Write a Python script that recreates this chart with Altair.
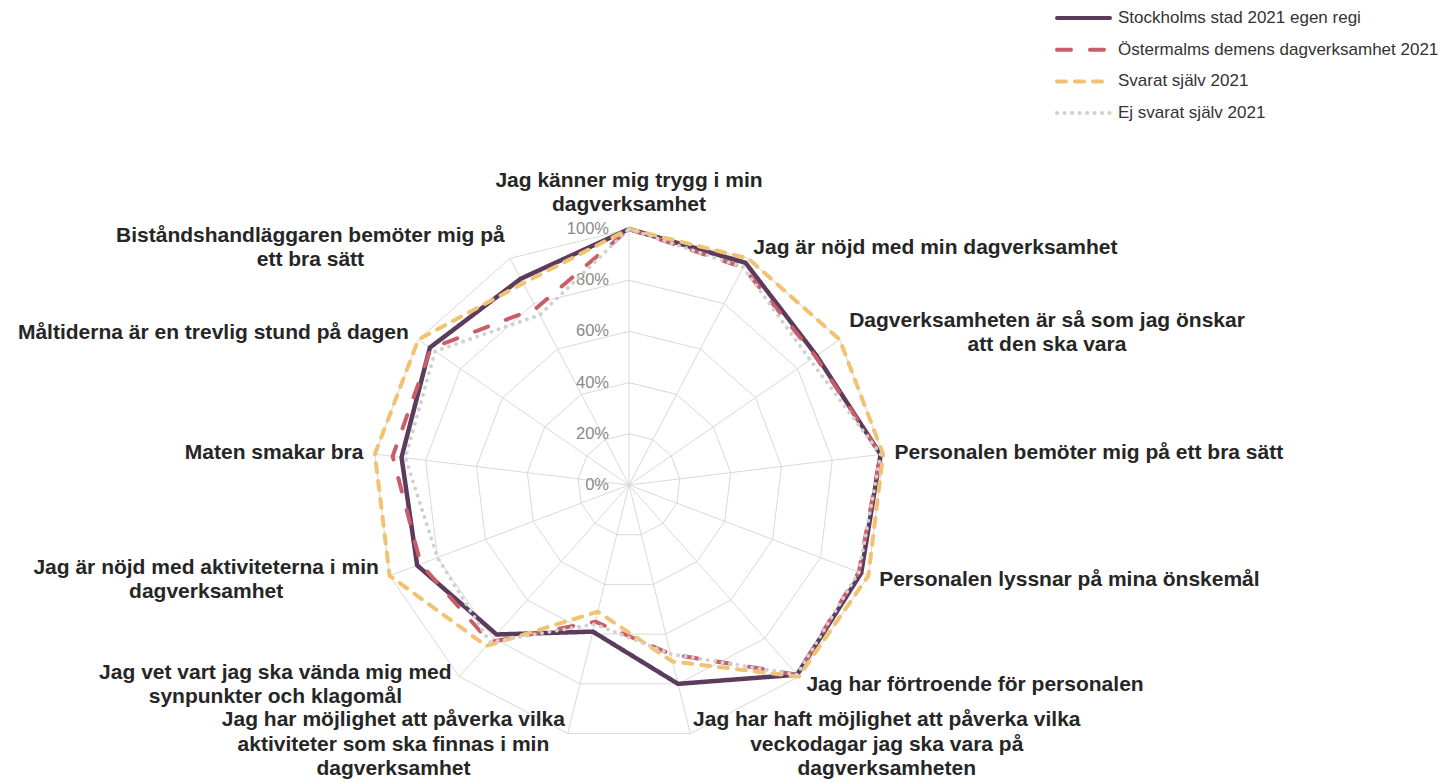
import altair as alt
import pandas as pd

# ---------------- data ----------------
categories = [
    "Jag känner mig trygg i min\ndagverksamhet",
    "Jag är nöjd med min dagverksamhet",
    "Dagverksamheten är så som jag önskar\natt den ska vara",
    "Personalen bemöter mig på ett bra sätt",
    "Personalen lyssnar på mina önskemål",
    "Jag har förtroende för personalen",
    "Jag har haft möjlighet att påverka vilka\nveckodagar jag ska vara på\ndagverksamheten",
    "Jag har möjlighet att påverka vilka\naktiviteter som ska finnas i min\ndagverksamhet",
    "Jag vet vart jag ska vända mig med\nsynpunkter och klagomål",
    "Jag är nöjd med aktiviteterna i min\ndagverksamhet",
    "Maten smakar bra",
    "Måltiderna är en trevlig stund på dagen",
    "Biståndshandläggaren bemöter mig på\nett bra sätt",
]
series = [
    "Stockholms stad 2021 egen regi",
    "Östermalms demens dagverksamhet 2021",
    "Svarat själv 2021",
    "Ej svarat själv 2021",
]
stockholm = [100, 98, 89, 99, 97, 99, 80, 59, 78, 88.5, 89.5, 94.5, 91]
ostermalm = [100, 96, 88.5, 99, 96, 99, 68, 55, 82, 87, 93, 94, 78]
svarat = [100, 100, 100, 100, 100, 100, 71, 51, 84, 100, 100, 100, 89]
ej_svarat = [100, 96, 86, 99, 96, 99, 68, 56, 82, 80, 88, 92, 75]
ticks = [0, 20, 40, 60, 80, 100]

# ---------------- style / layout ----------------
colors = ["#5b3c5d", "#c95e6a", "#f1c271", "#d0d0d0"]
dashes = [[1, 0], [14, 19], [9, 9], [0.1, 7.4]]
widths = [4.5, 4, 4, 3.8]
FONT = "Liberation Sans"
W, H = 1430, 774
CX, CY = 621, 477          # centre of the radar inside the plot area (px)
PX = 2.56                  # px per percent of radius
LBL_FS = 21
LH = 24.5
LBL_R = 104.5

N = len(categories)
xscale = alt.Scale(domain=[-CX / PX, (W - CX) / PX], nice=False, zero=False)
yscale = alt.Scale(domain=[-(H - CY) / PX, CY / PX], nice=False, zero=False)
cscale = alt.Scale(domain=series, range=colors)
dscale = alt.Scale(domain=series, range=dashes)

ANG = f"datum.idx * 2 * PI / {N}"

# Helvetica-Bold / Arial-Bold advance widths (1/1000 em) for label centering
AFM_BOLD = {
    " ": 278, "a": 556, "b": 611, "c": 556, "d": 611, "e": 556, "f": 333, "g": 611,
    "h": 611, "i": 278, "j": 278, "k": 556, "l": 278, "m": 889, "n": 611, "o": 611,
    "p": 611, "q": 611, "r": 389, "s": 556, "t": 333, "u": 611, "v": 556, "w": 778,
    "x": 556, "y": 556, "z": 500, "å": 556, "ä": 556, "ö": 611,
    "J": 556, "D": 722, "P": 667, "M": 833, "B": 722,
}


def text_width(s, size):
    return sum(AFM_BOLD.get(ch, 600) for ch in s) * size / 1000.0


# ---------------- tables ----------------
value_lists = [stockholm, ostermalm, svarat, ej_svarat]
line_rows = []
for s, vals in zip(series, value_lists):
    for i in range(N + 1):
        line_rows.append({"series": s, "idx": i % N, "order": i, "value": vals[i % N]})
lines_df = pd.DataFrame(line_rows)

ring_rows = []
for lev in ticks[1:]:
    for i in range(N + 1):
        ring_rows.append({"level": lev, "idx": i % N, "order": i})
ring_df = pd.DataFrame(ring_rows)

spoke_df = pd.DataFrame({"idx": list(range(N))})
tick_df = pd.DataFrame({"tick": ticks})

lbl_rows = []
for k, cat in enumerate(categories):
    parts = cat.split("\n")
    hw = max(text_width(p, LBL_FS) for p in parts) / 2.0
    for j, p in enumerate(parts):
        lbl_rows.append({"idx": k, "line": p, "j": j, "n": len(parts), "hw": hw})
lbl_df = pd.DataFrame(lbl_rows)

leg_df = pd.DataFrame({"series": series, "i": list(range(len(series)))})

# ---------------- layers ----------------
rings = (
    alt.Chart(ring_df)
    .transform_calculate(a=ANG)
    .transform_calculate(gx="datum.level * sin(datum.a)", gy="datum.level * cos(datum.a)")
    .mark_line(color="#d9d9d9", strokeWidth=1)
    .encode(
        x=alt.X("gx:Q", scale=xscale, axis=None),
        y=alt.Y("gy:Q", scale=yscale, axis=None),
        detail="level:N",
        order="order:Q",
    )
)

spokes = (
    alt.Chart(spoke_df)
    .transform_calculate(a=ANG)
    .transform_calculate(sx="100 * sin(datum.a)", sy="100 * cos(datum.a)", z="0")
    .mark_rule(color="#d9d9d9", strokeWidth=1)
    .encode(
        x=alt.X("z:Q", scale=xscale, axis=None),
        y=alt.Y("z:Q", scale=yscale, axis=None),
        x2="sx:Q",
        y2="sy:Q",
    )
)

tick_labels = (
    alt.Chart(tick_df)
    .transform_calculate(z="0", lab="datum.tick + '%'")
    .mark_text(align="right", baseline="middle", dx=-20, fontSize=16.5, color="#8a8a8a", font=FONT)
    .encode(
        x=alt.X("z:Q", scale=xscale, axis=None),
        y=alt.Y("tick:Q", scale=yscale, axis=None),
        text="lab:N",
    )
)

series_layers = []
for s, w in zip(series, widths):
    series_layers.append(
        alt.Chart(lines_df)
        .transform_filter(alt.datum.series == s)
        .transform_calculate(a=ANG)
        .transform_calculate(px="datum.value * sin(datum.a)", py="datum.value * cos(datum.a)")
        .mark_line(strokeWidth=w, strokeCap="round", strokeJoin="round")
        .encode(
            x=alt.X("px:Q", scale=xscale, axis=None),
            y=alt.Y("py:Q", scale=yscale, axis=None),
            color=alt.Color("series:N", scale=cscale, legend=None),
            strokeDash=alt.StrokeDash("series:N", scale=dscale, legend=None),
            order="order:Q",
        )
    )

cat_labels = (
    alt.Chart(lbl_df)
    .transform_calculate(a=ANG)
    .transform_calculate(s="sin(datum.a)", c="cos(datum.a)")
    .transform_calculate(sg="datum.s > 0.2 ? 1 : (datum.s < -0.2 ? -1 : 0)")
    .transform_calculate(
        lx=f"{LBL_R} * datum.s + datum.sg * datum.hw / {PX}",
        ly=f"{LBL_R} * datum.c + (datum.sg == 0 ? datum.n * {LH} / 2 / {PX} : 0)"
           f" - (datum.j - (datum.n - 1) / 2) * {LH} / {PX}",
    )
    .mark_text(align="center", baseline="middle", fontSize=LBL_FS, fontWeight="bold",
               color="#262626", font=FONT)
    .encode(
        x=alt.X("lx:Q", scale=xscale, axis=None),
        y=alt.Y("ly:Q", scale=yscale, axis=None),
        text="line:N",
    )
)

# legend (top right)
LEG_X0 = (1057 - 8 - CX) / PX
LEG_X1 = (1110 - 8 - CX) / PX
LEG_TX = (1118 - 8 - CX) / PX
LEG_Y0 = (CY - (18 - 8)) / PX
LEG_DY = 31.7 / PX

leg_rules = (
    alt.Chart(leg_df)
    .transform_calculate(x0=f"{LEG_X0}", x1=f"{LEG_X1}", ly=f"{LEG_Y0} - datum.i * {LEG_DY}")
    .mark_rule(strokeWidth=4, strokeCap="round")
    .encode(
        x=alt.X("x0:Q", scale=xscale, axis=None),
        x2="x1:Q",
        y=alt.Y("ly:Q", scale=yscale, axis=None),
        color=alt.Color("series:N", scale=cscale, legend=None),
        strokeDash=alt.StrokeDash("series:N", scale=dscale, legend=None),
    )
)
leg_text = (
    alt.Chart(leg_df)
    .transform_calculate(tx=f"{LEG_TX}", ly=f"{LEG_Y0} - datum.i * {LEG_DY}")
    .mark_text(align="left", baseline="middle", fontSize=17, color="#333333", font=FONT)
    .encode(
        x=alt.X("tx:Q", scale=xscale, axis=None),
        y=alt.Y("ly:Q", scale=yscale, axis=None),
        text="series:N",
    )
)

chart = (
    alt.layer(rings, spokes, tick_labels, *series_layers, cat_labels, leg_rules, leg_text)
    .properties(width=W, height=H, padding=0, autosize="none", background="white")
    .configure_view(strokeWidth=0)
)

chart.save("out.html", embed_options={"renderer": "svg", "actions": False})
